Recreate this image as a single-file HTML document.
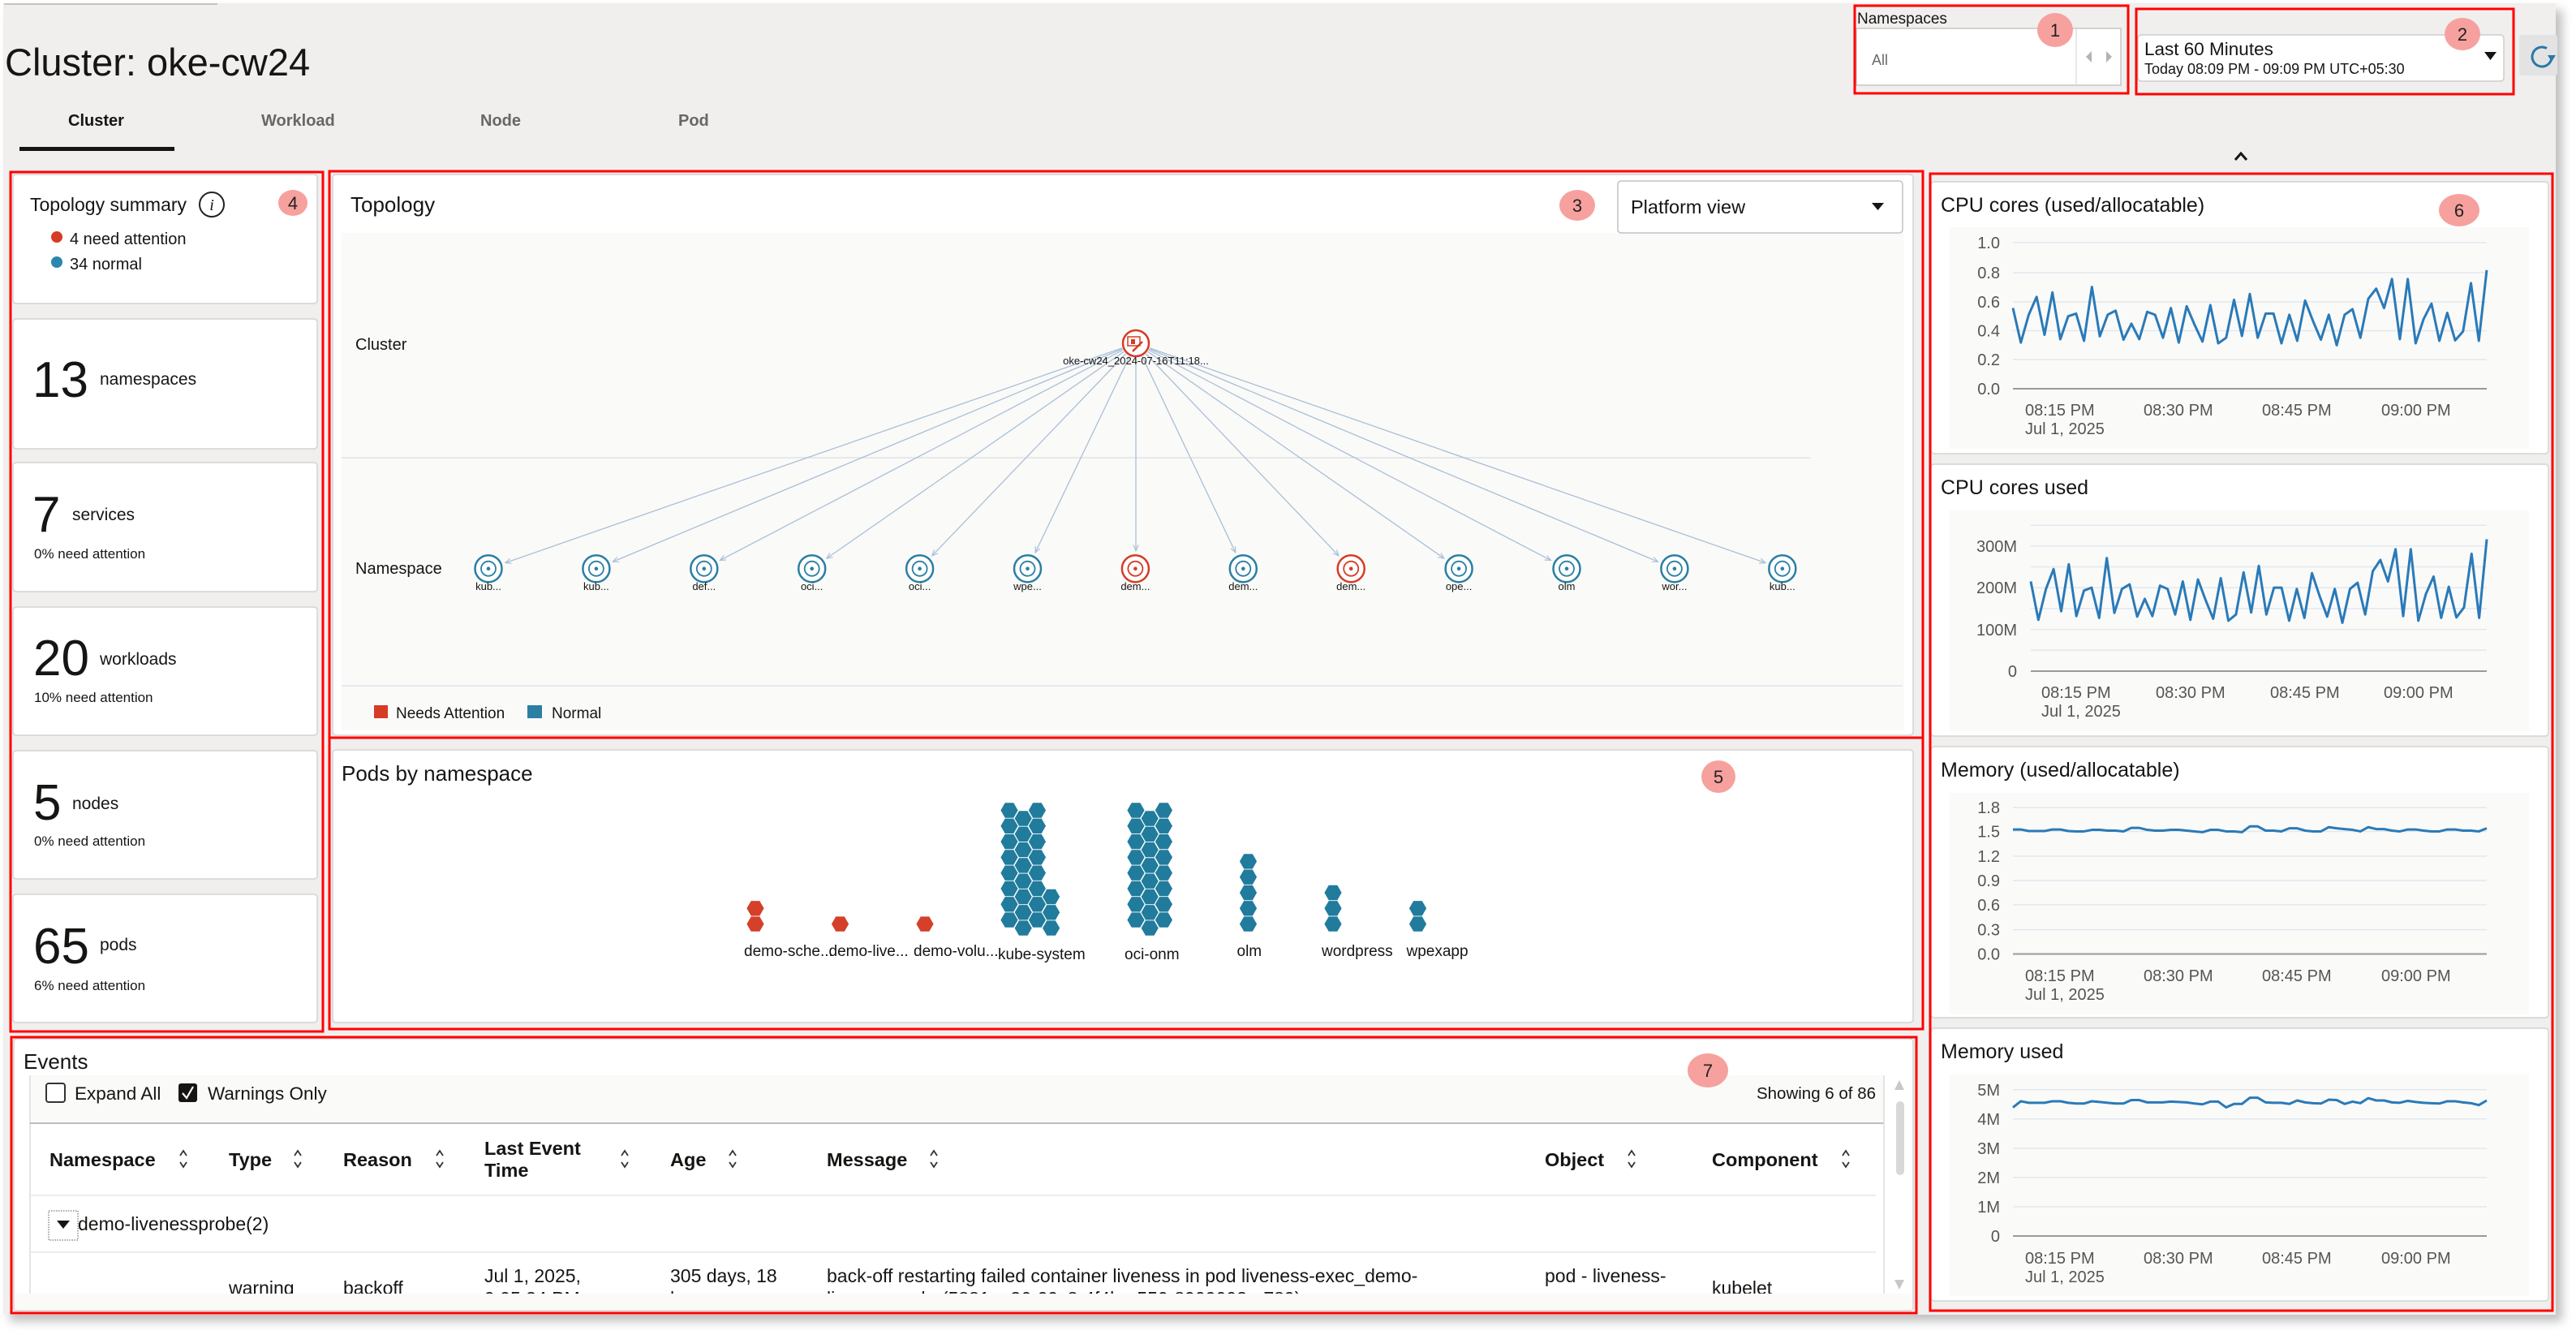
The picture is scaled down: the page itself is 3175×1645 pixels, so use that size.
<!DOCTYPE html>
<html><head><meta charset="utf-8"><title>Cluster: oke-cw24</title>
<style>html,body{margin:0;padding:0;background:#fff;}svg{display:block}</style>
</head><body>
<svg width="3175" height="1645" viewBox="0 0 3175 1645" xmlns="http://www.w3.org/2000/svg" font-family="Liberation Sans, Arial, sans-serif">
<defs>
<filter id="blur" x="-5%" y="-5%" width="110%" height="110%"><feGaussianBlur stdDeviation="6"/></filter>
<polygon id="hx" points="10.6,0 5.3,9.2 -5.3,9.2 -10.6,0 -5.3,-9.2 5.3,-9.2"/>
<g id="c8"><use href="#hx"/><use href="#hx" y="-19.3"/><use href="#hx" y="-38.6"/><use href="#hx" y="-57.9"/><use href="#hx" y="-77.2"/><use href="#hx" y="-96.5"/><use href="#hx" y="-115.8"/><use href="#hx" y="-135.1"/></g>
<g id="ns"><circle r="16.5" fill="#fff" stroke="currentColor" stroke-width="2.5"/><circle r="9" fill="none" stroke="currentColor" stroke-width="1.8"/><circle r="2.3" fill="currentColor"/></g>
<g id="srt" fill="none" stroke="#333" stroke-width="1.8"><polyline points="-4,-4 0,-10 4,-4"/><polyline points="-4,4 0,10 4,4"/></g>
<marker id="ar" viewBox="0 0 10 10" refX="9" refY="5" markerWidth="9" markerHeight="9" markerUnits="userSpaceOnUse" orient="auto"><path d="M1,1.5 L9,5 L1,8.5" fill="none" stroke="#a9c0d6" stroke-width="1.3"/></marker>
<clipPath id="rowclip"><rect x="37" y="1543" width="2285" height="51"/></clipPath>
</defs>

<!-- page background -->
<rect width="3175" height="1645" fill="#fff"/>
<rect x="12" y="12" width="3146" height="1616" fill="#8a8a8a" opacity="0.55" filter="url(#blur)"/>
<rect x="4" y="4" width="3146" height="1616" fill="#f0efee"/>
<rect x="5" y="4" width="263" height="2" fill="#c4c4c4"/>

<!-- header -->
<text x="6" y="93" font-size="47" fill="#161513">Cluster: oke-cw24</text>
<text x="84" y="155" font-size="20" font-weight="bold" fill="#161513">Cluster</text>
<text x="322" y="155" font-size="20" font-weight="bold" fill="#676767">Workload</text>
<text x="592" y="155" font-size="20" font-weight="bold" fill="#676767">Node</text>
<text x="836" y="155" font-size="20" font-weight="bold" fill="#676767">Pod</text>
<rect x="24" y="181" width="191" height="5" fill="#161513"/>

<!-- namespaces -->
<text x="2289" y="29" font-size="19" fill="#161513">Namespaces</text>
<rect x="2288" y="35" width="326" height="70" fill="#fff" stroke="#c6c6c6" stroke-width="1.5"/>
<line x1="2559" y1="36" x2="2559" y2="104" stroke="#e0e0e0" stroke-width="1.5"/>
<text x="2307" y="80" font-size="18" fill="#6a6a6a">All</text>
<polygon points="2578,63 2578,77 2571,70" fill="#b3b3b3"/>
<polygon points="2596,63 2596,77 2603,70" fill="#b3b3b3"/>

<!-- time range -->
<rect x="2635" y="43" width="451" height="57" rx="4" fill="#fff" stroke="#cdcdcd" stroke-width="1.5"/>
<text x="2643" y="68" font-size="22.5" fill="#161513">Last 60 Minutes</text>
<text x="2643" y="91" font-size="18" fill="#161513">Today 08:09 PM - 09:09 PM UTC+05:30</text>
<polygon points="3062,64 3077,64 3069.5,74" fill="#161513"/>

<!-- refresh -->
<rect x="3105" y="43" width="47" height="50" rx="3" fill="#e3e3e3"/>
<path d="M3139,59.6 A12,12 0 1 0 3145,71" fill="none" stroke="#2779a7" stroke-width="3"/>
<polygon points="3140,68 3150,68 3145,76" fill="#2779a7"/>

<polyline points="2755,197 2762,189 2769,197" fill="none" stroke="#161513" stroke-width="3"/>

<!-- left cards -->
<g fill="#fff" stroke="#d3d3d3" stroke-width="1.5">
<rect x="16" y="215" width="375" height="159" rx="4"/>
<rect x="16" y="393" width="375" height="160" rx="4"/>
<rect x="16" y="570" width="375" height="159" rx="4"/>
<rect x="16" y="748" width="375" height="158" rx="4"/>
<rect x="16" y="925" width="375" height="158" rx="4"/>
<rect x="16" y="1102" width="375" height="158" rx="4"/>
</g>
<g fill="#161513">
<text x="37" y="260" font-size="23">Topology summary</text>
<circle cx="261" cy="252" r="15" fill="none" stroke="#222" stroke-width="2"/>
<text x="261" y="259" font-size="20" font-style="italic" font-family="Liberation Serif, serif" text-anchor="middle">i</text>
<circle cx="70" cy="292" r="7" fill="#d63b25"/>
<text x="86" y="301" font-size="20">4 need attention</text>
<circle cx="70" cy="323" r="7" fill="#2a87ad"/>
<text x="86" y="332" font-size="20">34 normal</text>

<text x="40" y="489" font-size="62">13</text>
<text x="123" y="474" font-size="21">namespaces</text>

<text x="40" y="655" font-size="62">7</text>
<text x="89" y="641" font-size="21">services</text>
<text x="42" y="688" font-size="17">0% need attention</text>

<text x="41" y="832" font-size="62">20</text>
<text x="123" y="819" font-size="21">workloads</text>
<text x="42" y="865" font-size="17">10% need attention</text>

<text x="41" y="1010" font-size="62">5</text>
<text x="89" y="997" font-size="21">nodes</text>
<text x="42" y="1042" font-size="17">0% need attention</text>

<text x="41" y="1187" font-size="62">65</text>
<text x="123" y="1171" font-size="21">pods</text>
<text x="42" y="1220" font-size="17">6% need attention</text>
</g>

<!-- topology card -->
<rect x="410" y="215" width="1948" height="691" rx="4" fill="#fff" stroke="#d3d3d3" stroke-width="1.5"/>
<rect x="421" y="287" width="1926" height="613" fill="#fafaf9"/>
<line x1="421" y1="564" x2="2231" y2="564" stroke="#e2e2e2" stroke-width="1.5"/>
<line x1="421" y1="845" x2="2345" y2="845" stroke="#dfe4ea" stroke-width="1.5"/>
<text x="432" y="261" font-size="26" fill="#161513">Topology</text>
<rect x="1994" y="223" width="351" height="64" rx="4" fill="#fff" stroke="#c2c2c2" stroke-width="1.5"/>
<text x="2010" y="263" font-size="23.5" fill="#161513">Platform view</text>
<polygon points="2307,250 2322,250 2314.5,259" fill="#161513"/>
<text x="438" y="431" font-size="20" fill="#161513">Cluster</text>
<text x="438" y="707" font-size="20" fill="#161513">Namespace</text>

<g stroke="#a9c0d6" stroke-width="1.3" fill="none" marker-end="url(#ar)">
<line x1="1383" y1="428.9" x2="622.8" y2="693.5"/>
<line x1="1383.4" y1="429.9" x2="755.2" y2="692.2"/>
<line x1="1384" y1="431.3" x2="887.3" y2="690.5"/>
<line x1="1385.2" y1="433.3" x2="1018.8" y2="688.1"/>
<line x1="1387.5" y1="436" x2="1148.8" y2="684.8"/>
<line x1="1392.2" y1="439.2" x2="1276" y2="680.9"/>
<line x1="1400" y1="441" x2="1400" y2="678.7"/>
<line x1="1407.7" y1="439.2" x2="1522.8" y2="680.8"/>
<line x1="1412.5" y1="436" x2="1650" y2="684.8"/>
<line x1="1414.8" y1="433.3" x2="1780" y2="688.1"/>
<line x1="1416" y1="431.3" x2="1911.5" y2="690.5"/>
<line x1="1416.6" y1="429.9" x2="2043.6" y2="692.2"/>
<line x1="1417" y1="428.9" x2="2176" y2="693.5"/>
</g>

<!-- cluster node -->
<circle cx="1400" cy="423" r="16" fill="#fff" stroke="#d63b25" stroke-width="2.5"/>
<rect x="1390" y="415" width="15" height="11" fill="none" stroke="#d63b25" stroke-width="1.5"/>
<rect x="1394" y="418" width="5" height="6" fill="#d63b25"/>
<line x1="1396" y1="433" x2="1408" y2="421" stroke="#d63b25" stroke-width="2.5"/>
<text x="1400" y="449" font-size="13" fill="#161513" text-anchor="middle">oke-cw24_2024-07-16T11:18...</text>

<!-- namespace nodes -->
<g color="#2a7fa3">
<use href="#ns" x="602" y="700.7"/>
<use href="#ns" x="734.9" y="700.7"/>
<use href="#ns" x="867.8" y="700.7"/>
<use href="#ns" x="1000.7" y="700.7"/>
<use href="#ns" x="1133.6" y="700.7"/>
<use href="#ns" x="1266.5" y="700.7"/>
<use href="#ns" x="1532.3" y="700.7"/>
<use href="#ns" x="1798.1" y="700.7"/>
<use href="#ns" x="1931" y="700.7"/>
<use href="#ns" x="2063.9" y="700.7"/>
<use href="#ns" x="2196.8" y="700.7"/>
</g>
<g color="#d63b25">
<use href="#ns" x="1399.4" y="700.7"/>
<use href="#ns" x="1665.2" y="700.7"/>
</g>
<g font-size="13" fill="#161513" text-anchor="middle">
<text x="602" y="727">kub...</text>
<text x="734.9" y="727">kub...</text>
<text x="867.8" y="727">def...</text>
<text x="1000.7" y="727">oci...</text>
<text x="1133.6" y="727">oci...</text>
<text x="1266.5" y="727">wpe...</text>
<text x="1399.4" y="727">dem...</text>
<text x="1532.3" y="727">dem...</text>
<text x="1665.2" y="727">dem...</text>
<text x="1798.1" y="727">ope...</text>
<text x="1931" y="727">olm</text>
<text x="2063.9" y="727">wor...</text>
<text x="2196.8" y="727">kub...</text>
</g>
<rect x="461" y="869" width="17" height="16" fill="#d63b25"/>
<text x="488" y="885" font-size="19" fill="#161513">Needs Attention</text>
<rect x="650" y="869" width="18" height="16" fill="#2a7fa3"/>
<text x="680" y="885" font-size="19" fill="#161513">Normal</text>

<!-- pods by namespace -->
<rect x="410" y="924" width="1948" height="336" rx="4" fill="#fff" stroke="#d3d3d3" stroke-width="1.5"/>
<text x="421" y="962" font-size="26" fill="#161513">Pods by namespace</text>
<g fill="#d4402a">
<use href="#hx" x="931" y="1138.6"/><use href="#hx" x="931" y="1119.3"/>
<use href="#hx" x="1035.5" y="1138.6"/>
<use href="#hx" x="1140" y="1138.6"/>
</g>
<g fill="#217b9c">
<use href="#c8" x="1244" y="1133.6"/>
<use href="#c8" x="1261.2" y="1143.6"/>
<use href="#c8" x="1278.4" y="1133.6"/>
<use href="#hx" x="1295.6" y="1143.6"/><use href="#hx" x="1295.6" y="1124.3"/><use href="#hx" x="1295.6" y="1105"/>
<use href="#c8" x="1400" y="1133.6"/>
<use href="#c8" x="1417.2" y="1143.6"/>
<use href="#c8" x="1434.4" y="1133.6"/>
<use href="#hx" x="1538.5" y="1138.6"/><use href="#hx" x="1538.5" y="1119.3"/><use href="#hx" x="1538.5" y="1100"/><use href="#hx" x="1538.5" y="1080.7"/><use href="#hx" x="1538.5" y="1061.4"/>
<use href="#hx" x="1643" y="1138.6"/><use href="#hx" x="1643" y="1119.3"/><use href="#hx" x="1643" y="1100"/>
<use href="#hx" x="1747.5" y="1138.6"/><use href="#hx" x="1747.5" y="1119.3"/>
</g>
<g font-size="19" fill="#161513">
<text x="917" y="1178">demo-sche...</text>
<text x="1021.5" y="1178">demo-live...</text>
<text x="1126" y="1178">demo-volu...</text>
<text x="1230" y="1182">kube-system</text>
<text x="1386" y="1182">oci-onm</text>
<text x="1524.5" y="1178">olm</text>
<text x="1629" y="1178">wordpress</text>
<text x="1733.5" y="1178">wpexapp</text>
</g>

<!-- right charts -->
<g fill="#fff" stroke="#d3d3d3" stroke-width="1.5">
<rect x="2380" y="224" width="761" height="335" rx="4"/>
<rect x="2380" y="572" width="761" height="335" rx="4"/>
<rect x="2380" y="920" width="761" height="334" rx="4"/>
<rect x="2380" y="1267" width="761" height="336" rx="4"/>
</g>
<g fill="#fafaf9">
<rect x="2403" y="280" width="714" height="273"/>
<rect x="2403" y="629" width="714" height="272"/>
<rect x="2403" y="977" width="714" height="273"/>
<rect x="2403" y="1324" width="714" height="273"/>
</g>
<g font-size="25" fill="#161513">
<text x="2392" y="261">CPU cores (used/allocatable)</text>
<text x="2392" y="609">CPU cores used</text>
<text x="2392" y="957">Memory (used/allocatable)</text>
<text x="2392" y="1304">Memory used</text>
</g>
<!-- gridlines -->
<g stroke="#e3e8ee" stroke-width="1.5">
<line x1="2481" x2="3065" y1="299" y2="299"/><line x1="2481" x2="3065" y1="336" y2="336"/><line x1="2481" x2="3065" y1="372" y2="372"/><line x1="2481" x2="3065" y1="407.5" y2="407.5"/><line x1="2481" x2="3065" y1="443" y2="443"/>
<line x1="2503" x2="3065" y1="647.1" y2="647.1"/><line x1="2503" x2="3065" y1="672.8" y2="672.8"/><line x1="2503" x2="3065" y1="698.5" y2="698.5"/><line x1="2503" x2="3065" y1="724.2" y2="724.2"/><line x1="2503" x2="3065" y1="749.9" y2="749.9"/><line x1="2503" x2="3065" y1="775.6" y2="775.6"/><line x1="2503" x2="3065" y1="801.3" y2="801.3"/>
<line x1="2481" x2="3065" y1="995" y2="995"/><line x1="2481" x2="3065" y1="1024.5" y2="1024.5"/><line x1="2481" x2="3065" y1="1055" y2="1055"/><line x1="2481" x2="3065" y1="1085" y2="1085"/><line x1="2481" x2="3065" y1="1115" y2="1115"/><line x1="2481" x2="3065" y1="1145.6" y2="1145.6"/>
<line x1="2481" x2="3065" y1="1342.7" y2="1342.7"/><line x1="2481" x2="3065" y1="1378.8" y2="1378.8"/><line x1="2481" x2="3065" y1="1415" y2="1415"/><line x1="2481" x2="3065" y1="1451" y2="1451"/><line x1="2481" x2="3065" y1="1487" y2="1487"/>
</g>
<g stroke="#9a9a9a" stroke-width="2">
<line x1="2481" x2="3065" y1="479" y2="479"/>
<line x1="2503" x2="3065" y1="827" y2="827"/>
<line x1="2481" x2="3065" y1="1175.5" y2="1175.5"/>
<line x1="2481" x2="3065" y1="1523" y2="1523"/>
</g>
<g font-size="20" fill="#555" text-anchor="end">
<text x="2465" y="306">1.0</text><text x="2465" y="343">0.8</text><text x="2465" y="379">0.6</text><text x="2465" y="414.5">0.4</text><text x="2465" y="450">0.2</text><text x="2465" y="486">0.0</text>
<text x="2486" y="680">300M</text><text x="2486" y="731">200M</text><text x="2486" y="783">100M</text><text x="2486" y="834">0</text>
<text x="2465" y="1002">1.8</text><text x="2465" y="1031.5">1.5</text><text x="2465" y="1062">1.2</text><text x="2465" y="1092">0.9</text><text x="2465" y="1122">0.6</text><text x="2465" y="1152.6">0.3</text><text x="2465" y="1182.5">0.0</text>
<text x="2465" y="1350">5M</text><text x="2465" y="1386">4M</text><text x="2465" y="1422">3M</text><text x="2465" y="1458">2M</text><text x="2465" y="1494">1M</text><text x="2465" y="1530">0</text>
</g>
<g font-size="20" fill="#555">
<text x="2496" y="512">08:15 PM</text><text x="2642" y="512">08:30 PM</text><text x="2788" y="512">08:45 PM</text><text x="2935" y="512">09:00 PM</text><text x="2496" y="535">Jul 1, 2025</text>
<text x="2516" y="860">08:15 PM</text><text x="2657" y="860">08:30 PM</text><text x="2798" y="860">08:45 PM</text><text x="2938" y="860">09:00 PM</text><text x="2516" y="883">Jul 1, 2025</text>
<text x="2496" y="1209">08:15 PM</text><text x="2642" y="1209">08:30 PM</text><text x="2788" y="1209">08:45 PM</text><text x="2935" y="1209">09:00 PM</text><text x="2496" y="1232">Jul 1, 2025</text>
<text x="2496" y="1557">08:15 PM</text><text x="2642" y="1557">08:30 PM</text><text x="2788" y="1557">08:45 PM</text><text x="2935" y="1557">09:00 PM</text><text x="2496" y="1580">Jul 1, 2025</text>
</g>
<g fill="none" stroke="#2a7ab8" stroke-width="3" stroke-linejoin="round">
<polyline vector-effect="non-scaling-stroke" transform="translate(2481,479) scale(9.733,-180.5)" points="0,0.551 1,0.315 2,0.505 3,0.627 4,0.368 5,0.657 6,0.338 7,0.495 8,0.513 9,0.327 10,0.695 11,0.358 12,0.505 13,0.533 14,0.335 15,0.444 16,0.338 17,0.525 18,0.505 19,0.348 20,0.551 21,0.315 22,0.563 23,0.437 24,0.322 25,0.571 26,0.310 27,0.348 28,0.607 29,0.360 30,0.647 31,0.348 32,0.513 33,0.513 34,0.310 35,0.505 36,0.327 37,0.602 38,0.462 39,0.335 40,0.505 41,0.297 42,0.505 43,0.543 44,0.348 45,0.614 46,0.683 47,0.551 48,0.749 49,0.338 50,0.749 51,0.310 52,0.475 53,0.581 54,0.327 55,0.518 56,0.330 57,0.391 58,0.721 59,0.327 60,0.810"/>
<polyline vector-effect="non-scaling-stroke" transform="translate(2503,827) scale(9.367,-200.6)" points="0,0.551 1,0.315 2,0.505 3,0.627 4,0.368 5,0.657 6,0.338 7,0.495 8,0.513 9,0.327 10,0.695 11,0.358 12,0.505 13,0.533 14,0.335 15,0.444 16,0.338 17,0.525 18,0.505 19,0.348 20,0.551 21,0.315 22,0.563 23,0.437 24,0.322 25,0.571 26,0.310 27,0.348 28,0.607 29,0.360 30,0.647 31,0.348 32,0.513 33,0.513 34,0.310 35,0.505 36,0.327 37,0.602 38,0.462 39,0.335 40,0.505 41,0.297 42,0.505 43,0.543 44,0.348 45,0.614 46,0.683 47,0.551 48,0.749 49,0.338 50,0.749 51,0.310 52,0.475 53,0.581 54,0.327 55,0.518 56,0.330 57,0.391 58,0.721 59,0.327 60,0.810"/>
<polyline vector-effect="non-scaling-stroke" transform="translate(2481,900) scale(9.733,0.475)" points="0,257 1,257 2,261 3,261 4,261 5,257 6,257 7,261 8,262 9,262 10,258 11,258 12,260 13,260 14,262 15,253 16,253 17,258 18,260 19,260 20,258 21,258 22,260 23,262 24,264 25,258 26,258 27,262 28,262 29,264 30,249 31,249 32,260 33,260 34,262 35,254 36,254 37,260 38,262 39,262 40,251 41,254 42,256 43,258 44,262 45,251 46,256 47,256 48,260 49,262 50,257 51,257 52,260 53,262 54,262 55,257 56,257 57,260 58,260 59,262 60,254"/>
<polyline vector-effect="non-scaling-stroke" transform="translate(2481,900) scale(9.733,0.475)" points="0,978 1,962 2,966 3,966 4,966 5,962 6,962 7,966 8,968 9,968 10,962 11,964 12,966 13,968 14,968 15,959 16,959 17,965 18,965 19,965 20,963 21,964 22,965 23,968 24,970 25,963 26,963 27,978 28,969 29,969 30,953 31,953 32,965 33,966 34,966 35,969 36,960 37,965 38,967 39,968 40,958 41,959 42,969 43,963 44,967 45,954 46,960 47,960 48,965 49,966 50,961 51,964 52,966 53,967 54,968 55,962 56,962 57,965 58,967 59,972 60,960"/>
</g>

<!-- events -->
<rect x="17" y="1280" width="2341" height="335" rx="4" fill="#fff" stroke="#d3d3d3" stroke-width="1.5"/>
<text x="29" y="1317" font-size="26" fill="#161513">Events</text>
<rect x="37" y="1325" width="2285" height="59" fill="#fafaf9"/>
<rect x="18" y="1594" width="2339" height="20" fill="#fafaf9"/>
<line x1="37" y1="1325" x2="37" y2="1594" stroke="#dcdcdc" stroke-width="1.5"/>
<line x1="37" y1="1384" x2="2322" y2="1384" stroke="#bdbdbd" stroke-width="2"/>
<line x1="37" y1="1473" x2="2312" y2="1473" stroke="#e6e6e6" stroke-width="1.5"/>
<line x1="37" y1="1543" x2="2312" y2="1543" stroke="#e6e6e6" stroke-width="1.5"/>
<rect x="57" y="1335" width="23" height="23" rx="3" fill="#fff" stroke="#333" stroke-width="2"/>
<text x="92" y="1355" font-size="22.5" fill="#161513">Expand All</text>
<rect x="220" y="1335" width="23" height="23" rx="3" fill="#161513"/>
<polyline points="225,1347 230,1353 238,1339" fill="none" stroke="#fff" stroke-width="2.2"/>
<text x="256" y="1355" font-size="22.5" fill="#161513">Warnings Only</text>
<text x="2312" y="1354" font-size="20.5" fill="#161513" text-anchor="end">Showing 6 of 86</text>

<g font-size="23.5" font-weight="bold" fill="#161513">
<text x="61" y="1437">Namespace</text>
<text x="282" y="1437">Type</text>
<text x="423" y="1437">Reason</text>
<text x="597" y="1423">Last Event</text>
<text x="597" y="1450">Time</text>
<text x="826" y="1437">Age</text>
<text x="1019" y="1437">Message</text>
<text x="1904" y="1437">Object</text>
<text x="2110" y="1437">Component</text>
</g>
<use href="#srt" x="226" y="1428"/><use href="#srt" x="367" y="1428"/><use href="#srt" x="542" y="1428"/><use href="#srt" x="770" y="1428"/><use href="#srt" x="903" y="1428"/><use href="#srt" x="1151" y="1428"/><use href="#srt" x="2011" y="1428"/><use href="#srt" x="2275" y="1428"/>

<rect x="60" y="1492" width="36" height="36" fill="none" stroke="#555" stroke-width="1" stroke-dasharray="1.5,1.5"/>
<polygon points="70,1504 86,1504 78,1514" fill="#161513"/>
<text x="96" y="1516" font-size="23" fill="#161513">demo-livenessprobe(2)</text>

<g clip-path="url(#rowclip)" font-size="23" fill="#161513">
<text x="282" y="1595">warning</text>
<text x="423" y="1595">backoff</text>
<text x="597" y="1580">Jul 1, 2025,</text>
<text x="597" y="1608">9:05:34 PM</text>
<text x="826" y="1580">305 days, 18</text>
<text x="826" y="1608">hours</text>
<text x="1019" y="1580">back-off restarting failed container liveness in pod liveness-exec_demo-</text>
<text x="1019" y="1608">livenessprobe(5881ea36-09c8-4f4b-a550-8909003e-789)</text>
<text x="1904" y="1580">pod - liveness-</text>
<text x="1904" y="1608">exec</text>
<text x="2110" y="1595">kubelet</text>
</g>

<!-- scrollbar -->
<line x1="2322" y1="1325" x2="2322" y2="1594" stroke="#dcdcdc" stroke-width="1.5"/>
<polygon points="2335,1343 2347,1343 2341,1331" fill="#c8c8c8"/>
<polygon points="2335,1577 2347,1577 2341,1589" fill="#c8c8c8"/>
<rect x="2337" y="1357" width="10" height="91" rx="5" fill="#d8d8d8"/>

<!-- annotation badges -->
<g fill="#f6a19e">
<ellipse cx="2533" cy="37" rx="22" ry="21"/>
<ellipse cx="3035" cy="42" rx="22" ry="20"/>
<ellipse cx="1944" cy="253" rx="22" ry="19"/>
<ellipse cx="361" cy="250" rx="18" ry="16"/>
<ellipse cx="2118" cy="957" rx="21" ry="20"/>
<ellipse cx="3031" cy="259" rx="25" ry="20"/>
<ellipse cx="2105" cy="1319" rx="25" ry="21"/>
</g>
<g font-size="22" fill="#222" text-anchor="middle">
<text x="2533" y="45">1</text>
<text x="3035" y="50">2</text>
<text x="1944" y="261">3</text>
<text x="361" y="258">4</text>
<text x="2118" y="965">5</text>
<text x="3031" y="267">6</text>
<text x="2105" y="1327">7</text>
</g>

<!-- red annotation boxes -->
<g fill="none" stroke="#ff0000" stroke-width="3">
<rect x="2286" y="7" width="337" height="108"/>
<rect x="2633" y="11" width="465" height="105"/>
<rect x="406" y="211" width="1964" height="698"/>
<rect x="13" y="212" width="385" height="1059"/>
<rect x="406" y="909" width="1964" height="359"/>
<rect x="2379" y="214" width="767" height="1401"/>
<rect x="14" y="1278" width="2348" height="340"/>
</g>
</svg>
</body></html>
